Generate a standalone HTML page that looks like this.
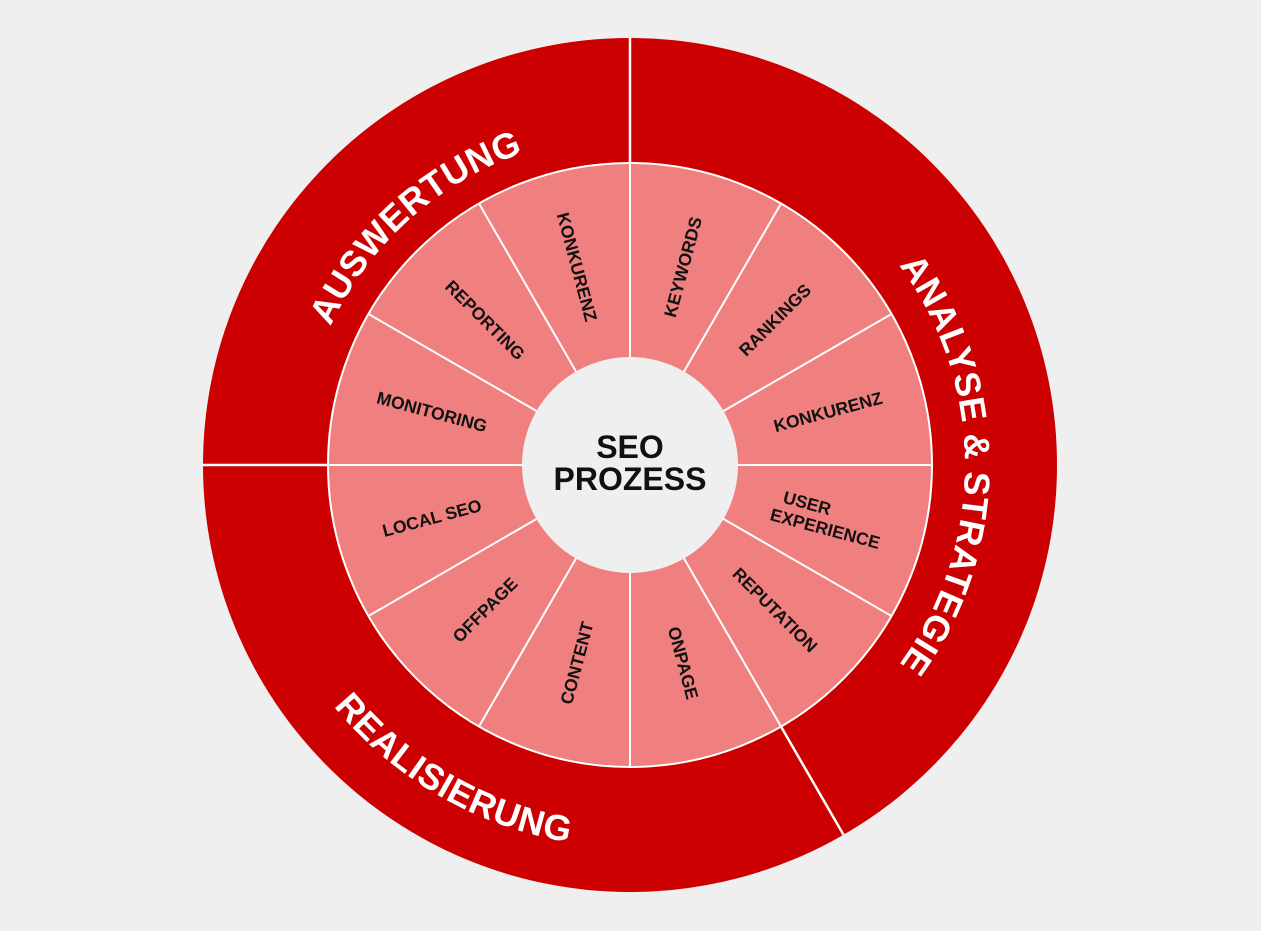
<!DOCTYPE html>
<html><head><meta charset="utf-8"><style>
html,body{margin:0;padding:0;background:#efefef;}
svg{display:block;}
.l{font-family:"Liberation Sans",sans-serif;font-weight:bold;font-size:17.5px;fill:#111;}
.o{font-family:"Liberation Sans",sans-serif;font-weight:bold;font-size:36px;fill:#fff;letter-spacing:0.5px;}
</style></head><body>
<svg width="1261" height="931" viewBox="0 0 1261 931" xmlns="http://www.w3.org/2000/svg">
<rect width="1261" height="931" fill="#efefef"/>
<circle cx="630" cy="465" r="427" fill="#cc0000"/>
<g stroke="#fff" stroke-width="2.5">
<line x1="630" y1="465" x2="630" y2="38"/>
<line x1="630" y1="465" x2="203" y2="465"/>
<line x1="630" y1="465" x2="843.5" y2="834.8"/>
</g>
<circle cx="630" cy="465" r="302" fill="#f08080" stroke="#fff" stroke-width="2"/>
<g stroke="#fff" stroke-width="2">
<line x1="630" y1="465" x2="932" y2="465"/>
<line x1="630" y1="465" x2="891.5" y2="616"/>
<line x1="630" y1="465" x2="781" y2="726.5"/>
<line x1="630" y1="465" x2="630" y2="767"/>
<line x1="630" y1="465" x2="479" y2="726.5"/>
<line x1="630" y1="465" x2="368.5" y2="616"/>
<line x1="630" y1="465" x2="328" y2="465"/>
<line x1="630" y1="465" x2="368.5" y2="314"/>
<line x1="630" y1="465" x2="479" y2="203.5"/>
<line x1="630" y1="465" x2="630" y2="163"/>
<line x1="630" y1="465" x2="781" y2="203.5"/>
<line x1="630" y1="465" x2="891.5" y2="314"/>
</g>
<circle cx="630" cy="465" r="108" fill="#efefef"/>
<text x="630" y="458" text-anchor="middle" font-family="Liberation Sans,sans-serif" font-weight="bold" font-size="32" fill="#111">SEO</text>
<text x="630" y="490" text-anchor="middle" font-family="Liberation Sans,sans-serif" font-weight="bold" font-size="32" fill="#111">PROZESS</text>
<g class="l" text-anchor="middle" dominant-baseline="central">
<text transform="translate(630 465) rotate(-75) translate(205 0)">KEYWORDS</text>
<text transform="translate(630 465) rotate(-45) translate(205 0)">RANKINGS</text>
<text transform="translate(630 465) rotate(-15) translate(205 0)">KONKURENZ</text>
<text transform="translate(630 465) rotate(15) translate(205 0)"><tspan x="-24" dy="-9">USER</tspan><tspan x="0" dy="20">EXPERIENCE</tspan></text>
<text transform="translate(630 465) rotate(45) translate(205 0)">REPUTATION</text>
<text transform="translate(630 465) rotate(75) translate(205 0)">ONPAGE</text>
<text transform="translate(630 465) rotate(105) translate(205 0) rotate(180)">CONTENT</text>
<text transform="translate(630 465) rotate(135) translate(205 0) rotate(180)">OFFPAGE</text>
<text transform="translate(630 465) rotate(165) translate(205 0) rotate(180)">LOCAL SEO</text>
<text transform="translate(630 465) rotate(195) translate(205 0) rotate(180)">MONITORING</text>
<text transform="translate(630 465) rotate(225) translate(205 0) rotate(180)">REPORTING</text>
<text transform="translate(630 465) rotate(255) translate(205 0) rotate(180)">KONKURENZ</text>
</g>
<defs>
<path id="pa" d="M307.2 533.6 A330 330 0 0 1 732 151.2" fill="none"/>
<path id="pb" d="M797.5 174.9 A335 335 0 0 1 797.5 755.1" fill="none"/>
<path id="pc" d="M248 465 A382 382 0 0 0 821 795.8" fill="none"/>
</defs>
<text class="o"><textPath href="#pa" startOffset="50%" text-anchor="middle">AUSWERTUNG</textPath></text>
<text class="o"><textPath href="#pb" startOffset="50%" text-anchor="middle">ANALYSE &amp; STRATEGIE</textPath></text>
<text class="o"><textPath href="#pc" startOffset="50%" text-anchor="middle">REALISIERUNG</textPath></text>
</svg>
</body></html>
